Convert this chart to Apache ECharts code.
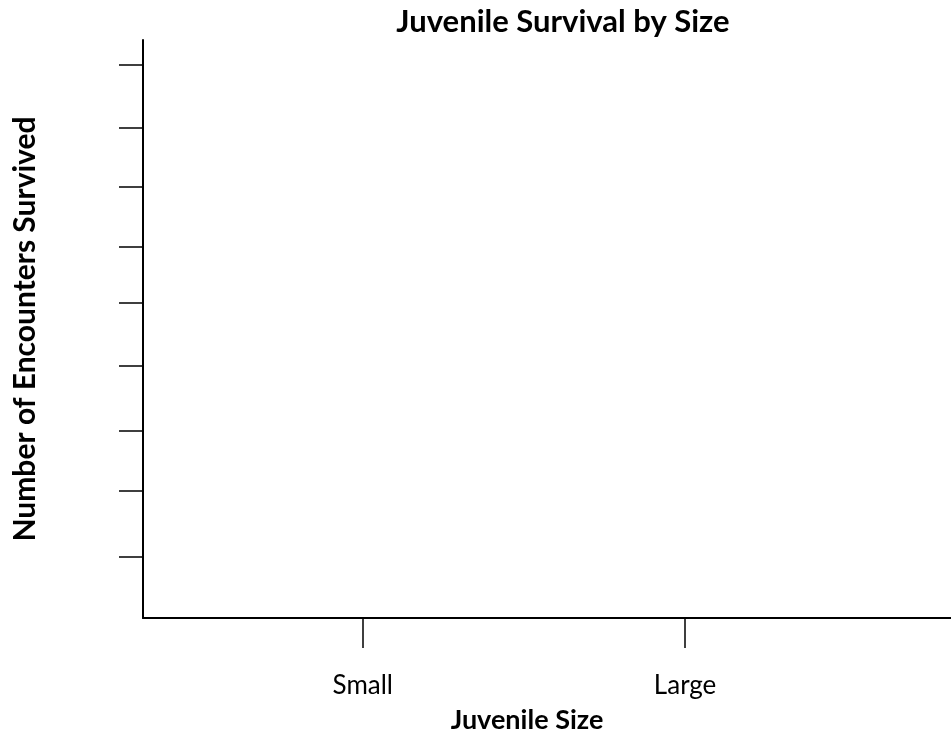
<!DOCTYPE html>
<html>
<head>
<meta charset="utf-8">
<script src="https://cdn.jsdelivr.net/npm/echarts@6/dist/echarts.min.js"></script>
<style>html,body{margin:0;padding:0;background:#fff}#c{width:951px;height:734px}</style>
</head>
<body>
<div id="c"></div>
<script>
// Data (chart is an empty template: no plotted values)
const categories = ["Small", "Large"];
const categoryPositions = [1, 2];
const yTicks = [0.99, 2.07, 3.04, 4.11, 5.13, 6.03, 7.01, 7.98, 9.0];
const seriesValues = [];
const titleText = "Juvenile Survival by Size";
const xTitle = "Juvenile Size";
const yTitle = "Number of Encounters Survived";

const FONT = "Lato";
const chart = echarts.init(document.getElementById('c'), null, {renderer: 'canvas'});
chart.setOption({
  backgroundColor: '#fff',
  animation: false,
  title: [
    {text: titleText, left: 558, top: 1, textAlign: 'center',
     textStyle: {fontFamily: FONT, fontWeight: 'bold', fontSize: 31, color: '#000'}},
    {text: xTitle, left: 522, top: 702, textAlign: 'center',
     textStyle: {fontFamily: FONT, fontWeight: 'bold', fontSize: 27, color: '#000'}}
  ],
  grid: {left: 143, right: 0, top: 40, bottom: 116, containLabel: false},
  xAxis: {
    type: 'value', min: 0.318, max: 2.825,
    splitLine: {show: false},
    axisLine: {show: true, onZero: false, lineStyle: {color: '#000', width: 2}},
    axisTick: {show: true, inside: false, length: 30, customValues: categoryPositions,
               lineStyle: {color: '#000', width: 1.5}},
    axisLabel: {show: true, customValues: categoryPositions, margin: 55,
                formatter: v => categories[categoryPositions.indexOf(v)] || '',
                fontFamily: FONT, fontSize: 26, color: '#000'}
  },
  yAxis: {
    type: 'value', min: 0, max: 9.4,
    name: yTitle, nameLocation: 'middle', nameRotate: 90, nameGap: 103,
    nameTextStyle: {fontFamily: FONT, fontWeight: 'bold', fontSize: 30, color: '#000'},
    splitLine: {show: false},
    axisLine: {show: true, onZero: false, lineStyle: {color: '#000', width: 2}},
    axisTick: {show: true, inside: false, length: 24, customValues: yTicks,
               lineStyle: {color: '#000', width: 1.5}},
    axisLabel: {show: false}
  },
  series: [{type: 'scatter', data: seriesValues}]
});
</script>
</body>
</html>
